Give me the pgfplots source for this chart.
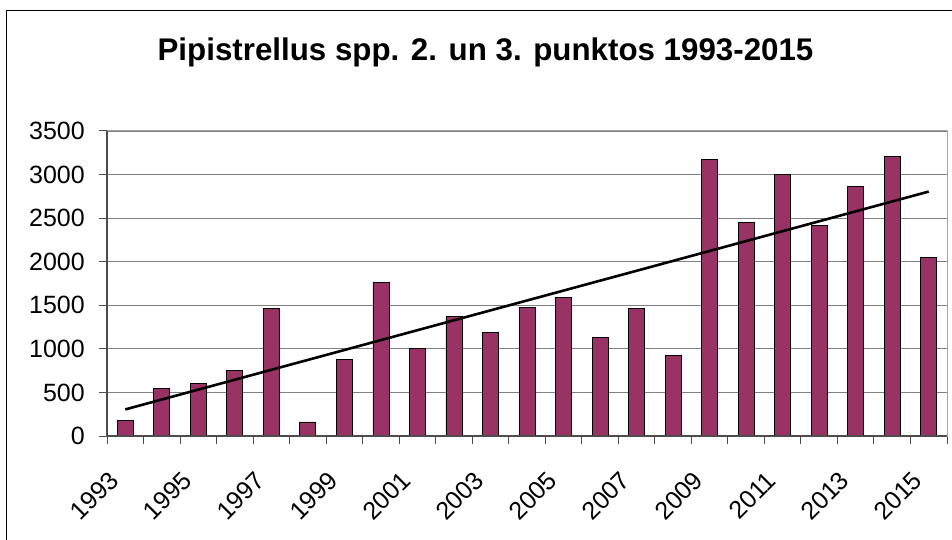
\documentclass[border=0pt]{standalone}
\usepackage{fontspec}
\setmainfont{Liberation Sans}
\usepackage{pgfplots}
\pgfplotsset{compat=1.18}
\definecolor{barcol}{HTML}{993366}
\begin{document}
\begin{tikzpicture}
\useasboundingbox (0,0) rectangle (952bp,540bp);
\begin{scope}
\clip (0,0) rectangle (952bp,540bp);
\draw[black, line width=1bp] (6bp,-20bp) rectangle (990bp,529bp);
\end{scope}
\node[anchor=base, font=\fontsize{31.3bp}{36bp}\selectfont\bfseries] at (485.5bp,479bp) {Pipistrellus spp. 2. un 3. punktos 1993-2015};
\begin{axis}[
  at={(107bp,104bp)}, anchor=south west,
  scale only axis, width=840bp, height=305bp,
  xmin=-0.5, xmax=22.5, ymin=0, ymax=3500,
  ytick={0,500,...,3500},
  xtick={-0.5,0.5,...,22.5},
  xticklabels={},
  xtick pos=bottom, ytick pos=left,
  extra x ticks={-0.3,1.7,3.7,5.7,7.7,9.7,11.7,13.7,15.7,17.7,19.7,21.7},
  extra x tick labels={1993,1995,1997,1999,2001,2003,2005,2007,2009,2011,2013,2015},
  extra x tick style={major tick length=0pt, xticklabel style={rotate=45, anchor=east, inner sep=0pt}, xticklabel shift=40bp},
  ymajorgrids, major grid style={draw=black!50, line width=1.2bp},
  tick align=outside, major tick length=8bp,
  tick style={draw=black!70, line width=1bp},
  axis line style={draw=black!35, line width=1bp},
  ticklabel style={font=\fontsize{25bp}{30bp}\selectfont},
  yticklabel style={anchor=east, inner sep=0pt},
  yticklabel shift=14bp,
  /pgf/number format/1000 sep={},
  /pgf/number format/assume math mode=true,
  clip=false,
]
\addplot[ybar, bar width=16bp, fill=barcol, draw=black, line width=0.8bp] coordinates {
(0,180) (1,548) (2,602) (3,752) (4,1465) (5,161) (6,878) (7,1760) (8,1005) (9,1369) (10,1189) (11,1480)
(12,1591) (13,1131) (14,1461) (15,928) (16,3171) (17,2454) (18,3006) (19,2416) (20,2860) (21,3209) (22,2051)
};
\addplot[black, line width=2.6bp] coordinates {(0,305) (22,2805)};
\draw[black!70, line width=1.2bp] (rel axis cs:0,0) -- (rel axis cs:0,1);
\draw[black!70, line width=1.2bp] (rel axis cs:0,0) -- (rel axis cs:1,0);
\end{axis}
\end{tikzpicture}
\end{document}
